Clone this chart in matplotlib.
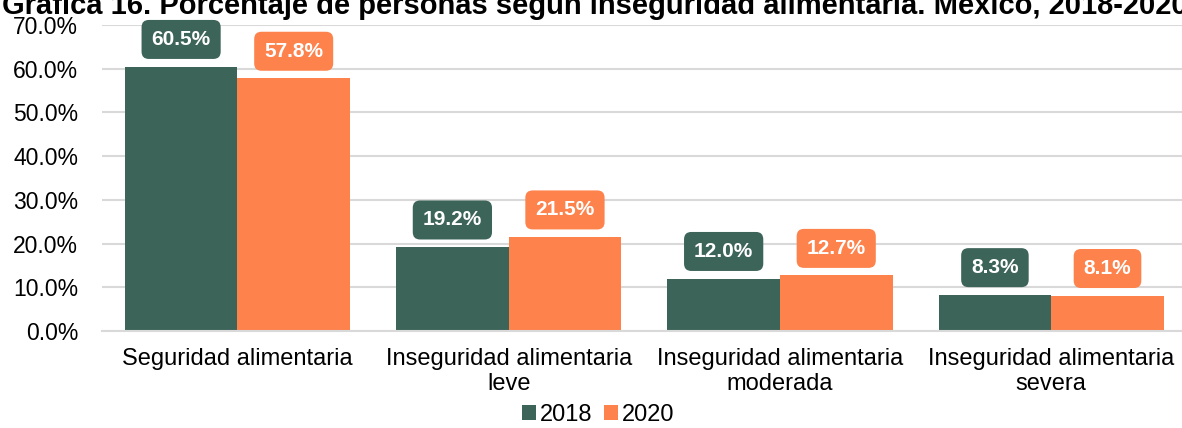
import matplotlib.pyplot as plt
import numpy as np

plt.rcParams["font.family"] = ["Liberation Sans", "DejaVu Sans"]

categories = [
    "Seguridad alimentaria",
    "Inseguridad alimentaria\nleve",
    "Inseguridad alimentaria\nmoderada",
    "Inseguridad alimentaria\nsevera",
]
values_2018 = [60.5, 19.2, 12.0, 8.3]
values_2020 = [57.8, 21.5, 12.7, 8.1]
series_names = ["2018", "2020"]

COLOR_2018 = "#3d6459"
COLOR_2020 = "#fd824c"

fig = plt.figure(figsize=(11.82, 4.28), dpi=100)
ax = fig.add_axes([0.0861, 1 - 331 / 428, 0.918, 306 / 428])

x = np.arange(len(categories))
w = 0.415
for vals, off, color, name in [
    (values_2018, -w / 2, COLOR_2018, series_names[0]),
    (values_2020, w / 2, COLOR_2020, series_names[1]),
]:
    ax.bar(x + off, vals, width=w, color=color, label=name, zorder=2)
    for xi, v in zip(x + off, vals):
        # rounded value badge floating above each bar
        ax.annotate(
            f"{v:.1f}%",
            xy=(xi, v),
            xytext=(0, 19.5),
            textcoords="offset points",
            ha="center",
            va="center",
            fontsize=15,
            fontweight="bold",
            color="white",
            bbox=dict(boxstyle="round,pad=0.48,rounding_size=0.35", fc=color, ec="none"),
            zorder=4,
        )

ax.set_xlim(-0.5, len(categories) - 0.5)
ax.set_ylim(0, 70)
ticks = np.arange(0, 71, 10)
ax.set_yticks(ticks)
ax.set_yticklabels([f"{t:.1f}%" for t in ticks], fontsize=16.5)
ax.set_xticks(x)
ax.set_xticklabels(categories, fontsize=17, linespacing=1.2)
ax.tick_params(axis="both", length=0)
ax.tick_params(axis="y", pad=17)
ax.tick_params(axis="x", pad=12)
ax.yaxis.grid(True, color="#d9d9d9", linewidth=1.5, zorder=0)
ax.set_axisbelow(True)
for side in ["top", "right", "left"]:
    ax.spines[side].set_visible(False)
ax.spines["bottom"].set_color("#d9d9d9")
ax.spines["bottom"].set_linewidth(1.5)

fig.legend(
    loc="center",
    bbox_to_anchor=(598 / 1182, 1 - 415 / 428),
    ncol=2,
    frameon=False,
    fontsize=17,
    handlelength=0.6,
    handleheight=0.6,
    handletextpad=0.15,
    columnspacing=0.5,
    borderpad=0,
)

fig.text(
    0.503,
    1.0 - 14 / 428,
    "Gráfica 16. Porcentaje de personas según inseguridad alimentaria. México, 2018-2020",
    ha="center",
    va="baseline",
    fontsize=21,
    fontweight="bold",
)

fig.savefig("out.png", dpi=100, facecolor="white")
